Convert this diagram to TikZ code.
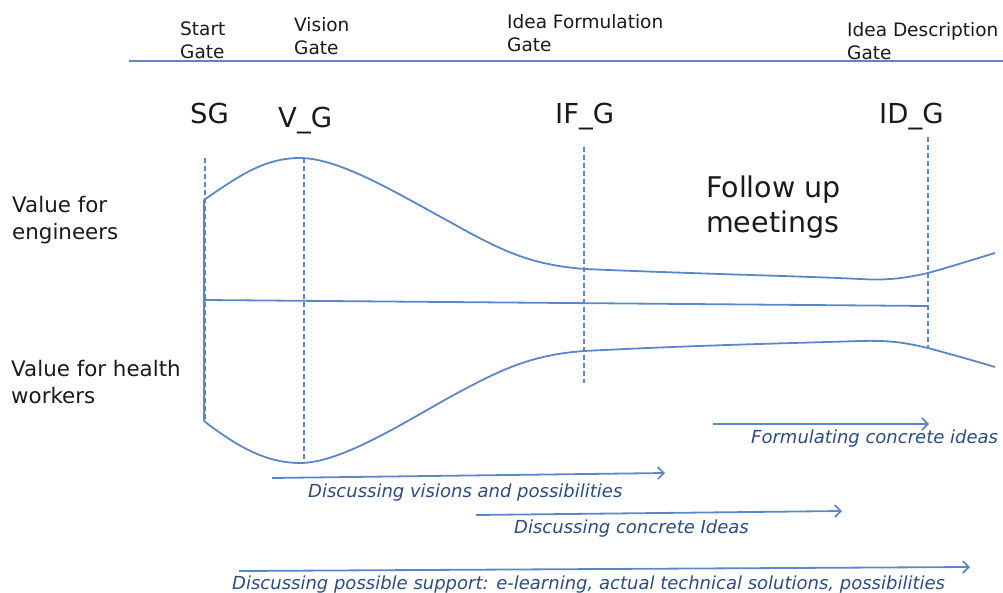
\documentclass[tikz,border=0pt]{standalone}
\usepackage{fontspec}
\setmainfont{DejaVu Sans}
\usetikzlibrary{arrows.meta}
\definecolor{lineblue}{HTML}{5B87C9}
\definecolor{textblue}{HTML}{2C4A86}
\definecolor{ink}{HTML}{1A1A1A}
\begin{document}
\begin{tikzpicture}[x=1pt,y=-1pt,
  ln/.style={draw=lineblue,line width=1.8pt},
  gdash/.style={draw=lineblue,line width=1.7pt,dash pattern=on 5pt off 3pt},
  actarrow/.style={draw=lineblue,line width=1.8pt,-{Straight Barb[length=6pt,width=12pt,line width=1.7pt]}},
  gatelbl/.style={anchor=north west,inner sep=0pt,align=left,text=ink,font=\fontsize{18.5}{23}\selectfont},
  gatecode/.style={anchor=base west,inner sep=0pt,text=ink,font=\fontsize{27.5}{30}\selectfont},
  sidelbl/.style={anchor=north west,inner sep=0pt,align=left,text=ink,font=\fontsize{21.4}{27}\selectfont},
  actlbl/.style={anchor=base west,inner sep=0pt,text=textblue,font=\fontsize{18}{22}\selectfont\itshape}]
\useasboundingbox (0,0) rectangle (1003,593);

% top time line
\coordinate (tl0) at (129,61);
\coordinate (tl1) at (1003,61);
\draw[ln] (tl0) -- (tl1);

% gate names
\node[gatelbl] (startg) at (180,22) {Start\\Gate};
\node[gatelbl] (visiong) at (294,17) {Vision\\Gate};
\node[gatelbl] (ideaf) at (507,14) {Idea Formulation\\Gate};
\node[gatelbl] (idead) at (847,22) {Idea Description\\Gate};

% gate codes
\node[gatecode] (sg) at (190,124) {SG};
\node[gatecode] (vg) at (278,128) {V\_G};
\node[gatecode] (ifg) at (555,124) {IF\_G};
\node[gatecode] (idg) at (879,124) {ID\_G};

% side labels
\node[sidelbl] (eng) at (12,196) {Value for\\engineers};
\node[sidelbl] (hw) at (11,360) {Value for health\\workers};
\node[anchor=north west,inner sep=0pt,align=left,text=ink,font=\fontsize{28.5}{35}\selectfont] (fum) at (706,176) {Follow up\\meetings};

% dashed gate lines
\coordinate (sgt) at (205,158); \coordinate (sgb) at (205,421);
\coordinate (vgt) at (304,158); \coordinate (vgb) at (304,463);
\coordinate (ift) at (584,147); \coordinate (ifb) at (584,383);
\coordinate (idt) at (928,137); \coordinate (idb) at (928,349);
\draw[gdash] (sgt) -- (sgb);
\draw[gdash] (vgt) -- (vgb);
\draw[gdash] (ift) -- (ifb);
\draw[gdash] (idt) -- (idb);

% solid left edge and middle axis
\coordinate (lt) at (204,200); \coordinate (lb) at (204,421);
\draw[ln] (lt) -- (lb);
\coordinate (ma) at (204,300); \coordinate (mb) at (928,306);
\draw[ln] (ma) -- (mb);

% upper curve (engineers)
\draw[ln] (lt) .. controls (240,175) and (265,158) .. (300,158)
  .. controls (340,158) and (400,195) .. (450,222)
  .. controls (500,250) and (530,265) .. (585,269)
  .. controls (700,274) and (800,276) .. (860,279)
  .. controls (890,281) and (910,277) .. (928,273)
  .. controls (950,267) and (975,259) .. (995,253);

% lower curve (health workers)
\draw[ln] (lb) .. controls (235,445) and (265,463) .. (300,463)
  .. controls (340,463) and (400,425) .. (450,397)
  .. controls (500,370) and (530,355) .. (584,351)
  .. controls (700,345) and (800,343) .. (860,341)
  .. controls (895,340) and (910,344) .. (928,348)
  .. controls (950,354) and (975,361) .. (995,367);

% activity arrows
\coordinate (a1s) at (713,424); \coordinate (a1e) at (929,424);
\coordinate (a2s) at (272,478); \coordinate (a2e) at (665,473);
\coordinate (a3s) at (476,515); \coordinate (a3e) at (842,511);
\coordinate (a4s) at (239,571); \coordinate (a4e) at (970,567);
\draw[actarrow] (a1s) -- (a1e);
\draw[actarrow] (a2s) -- (a2e);
\draw[actarrow] (a3s) -- (a3e);
\draw[actarrow] (a4s) -- (a4e);

\node[actlbl] (t1) at (751,443) {Formulating concrete ideas};
\node[actlbl] (t2) at (308,497) {Discussing visions and possibilities};
\node[actlbl] (t3) at (514,533) {Discussing concrete Ideas};
\node[actlbl] (t4) at (232,589) {Discussing possible support: e-learning, actual technical solutions, possibilities};
\end{tikzpicture}
\end{document}
